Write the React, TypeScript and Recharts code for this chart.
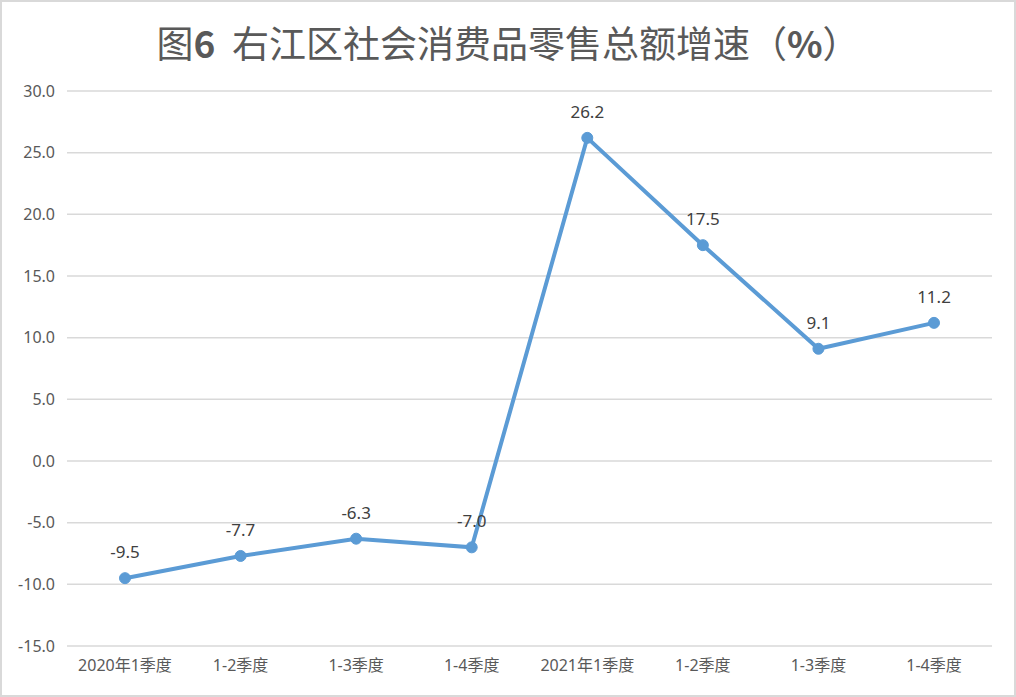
import React from 'react';
import { LineChart, Line, XAxis, YAxis, CartesianGrid, LabelList } from 'recharts';

// 季度分类
const quarters = ['2020年1季度', '1-2季度', '1-3季度', '1-4季度', '2021年1季度', '1-2季度', '1-3季度', '1-4季度'];
// 增速（%）
const growth = [-9.5, -7.7, -6.3, -7.0, 26.2, 17.5, 9.1, 11.2];
const yTicks = [-15, -10, -5, 0, 5, 10, 15, 20, 25, 30];

const chartData = quarters.map((q, i) => ({ key: `${i}-${q}`, name: q, value: growth[i] }));

const font = '"Noto Sans", "Noto Sans CJK SC", sans-serif';

export default function App() {
  return (
    <div
      style={{
        position: 'fixed',
        left: 0,
        top: 0,
        width: 1016,
        height: 697,
        background: '#fff',
        border: '2px solid #d9d9d9',
        boxSizing: 'border-box',
        fontFamily: font,
      }}
    >
      <div
        style={{
          position: 'absolute',
          left: 0,
          top: 14,
          width: 1012,
          textAlign: 'center',
          fontSize: 37,
          color: '#595959',
          fontFamily: '"Noto Sans CJK SC", sans-serif',
          lineHeight: '52px',
        }}
      >
        图<b>6</b>&nbsp; 右江区社会消费品零售总额增速（<b>%</b>）
      </div>
      <div style={{ position: 'absolute', left: -2, top: -2 }}>
        <LineChart
          width={1016}
          height={697}
          data={chartData}
          margin={{ top: 91, right: 24, left: 0, bottom: 0 }}
        >
          <CartesianGrid vertical={false} stroke="#d9d9d9" strokeWidth={1.5} />
          <XAxis
            dataKey="key"
            tickFormatter={(v: string) => v.split('-').slice(1).join('-')}
            axisLine={false}
            tickLine={false}
            tickSize={0}
            tickMargin={14}
            height={51}
            interval={0}
            padding={{ left: 58, right: 58 }}
            tick={{ fill: '#595959', fontSize: 16, fontFamily: font }}
          />
          <YAxis
            domain={[-15, 30]}
            ticks={yTicks}
            tickFormatter={(v: number) => v.toFixed(1)}
            axisLine={false}
            tickLine={false}
            tickSize={0}
            tickMargin={12}
            width={67}
            interval={0}
            tick={{ fill: '#595959', fontSize: 16, fontFamily: font }}
          />
          <Line
            type="linear"
            dataKey="value"
            stroke="#5b9bd5"
            strokeWidth={4}
            dot={{ r: 5.5, fill: '#5b9bd5', stroke: '#5b9bd5', strokeWidth: 1 }}
            isAnimationActive={false}
          >
            <LabelList
              dataKey="value"
              position="top"
              offset={20}
              formatter={(v: number) => v.toFixed(1)}
              style={{ fill: '#404040', fontSize: 17, fontFamily: font }}
            />
          </Line>
        </LineChart>
      </div>
    </div>
  );
}
